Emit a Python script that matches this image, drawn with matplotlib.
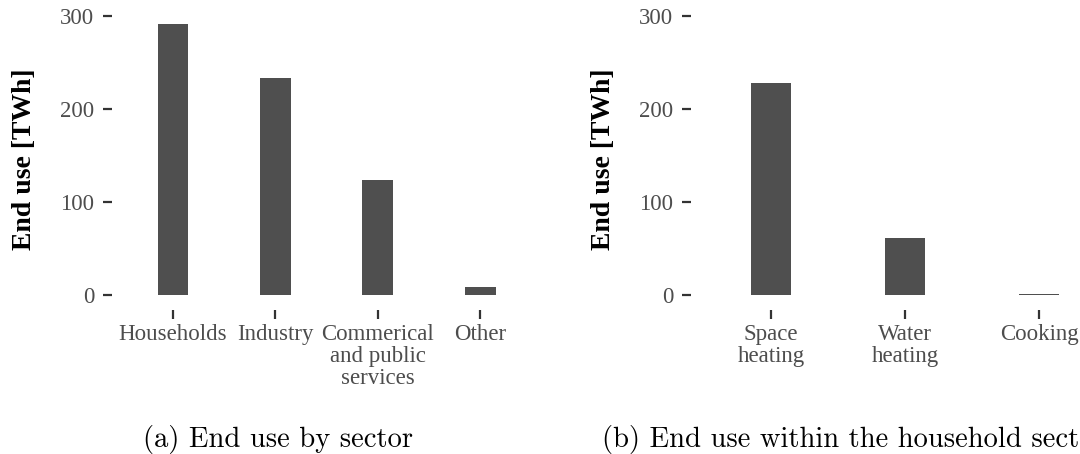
import numpy as np, matplotlib
matplotlib.use('Agg')
import matplotlib.pyplot as plt

# End use [TWh]
sectors=['Households','Industry','Commerical\nand public\nservices','Other']
sector_use=[291,233,124,9]
hh_uses=['Space\nheating','Water\nheating','Cooking']
hh_use=[228,61,1.5]
yticks=[0,100,200,300]

BAR='#4f4f4f'; TXT='#4d4d4d'; TCK='#333333'
W,H=1080,454
fig=plt.figure(figsize=(W/100,H/100),dpi=100)

def panel(left_px,width_px,cats,vals):
    # axes in pixel coords (y from top)
    top,bot=9.9,309.5
    ax=fig.add_axes([left_px/W,(H-bot)/H,width_px/W,(bot-top)/H])
    xp=np.arange(len(cats))
    ax.bar(xp,vals,0.3,color=BAR,lw=0)
    ax.set_xlim(-0.6,len(cats)-0.4); ax.set_ylim(-15.6,306.6)
    ax.set_xticks(xp); ax.set_xticklabels(cats,family='Liberation Serif',fontsize=16.5,color=TXT,linespacing=1.05)
    ax.set_yticks(yticks); ax.set_yticklabels([str(t) for t in yticks],family='Liberation Serif',fontsize=16.5,color=TXT)
    ax.tick_params(axis='both',length=6.5,width=1.6,color=TCK)
    ax.tick_params(axis='y',pad=6); ax.tick_params(axis='x',pad=4)
    for s in ax.spines.values(): s.set_visible(False)
    ax.set_ylabel('End use [TWh]',family='Liberation Serif',fontsize=20,fontweight='bold',va='center')
    ax.yaxis.set_label_coords(-87/width_px,0.5)
    return ax

panel(111.6,430,sectors,sector_use)
panel(690.6,429,hh_uses,hh_use)

fig.text(143/W,7/H,'(a) End use by sector',family='cmr10',fontsize=20.6,ha='left',va='baseline')
fig.text(602/W,7/H,'(b) End use within the household sector',family='cmr10',fontsize=20.6,ha='left',va='baseline')

plt.savefig('out.png',dpi=100); plt.close()
